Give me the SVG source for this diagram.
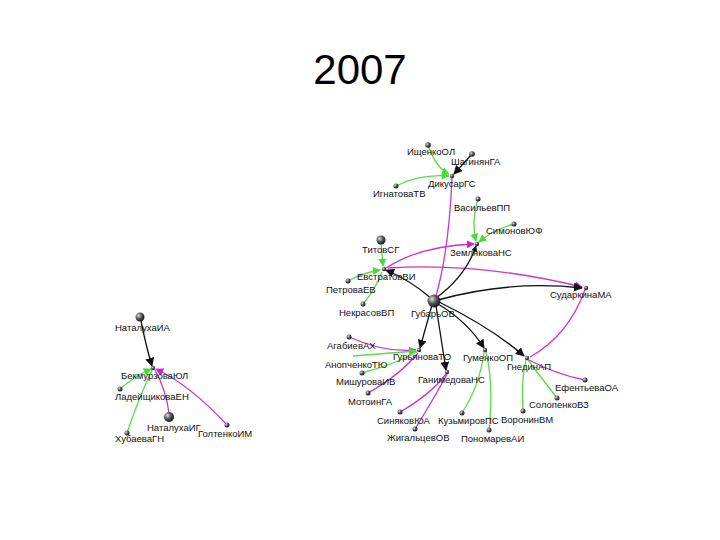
<svg xmlns="http://www.w3.org/2000/svg" width="720" height="540" viewBox="0 0 720 540">
<style>
.t{font-family:"Liberation Sans",Arial,sans-serif;font-size:42px;fill:#000}
.l{font-family:"Liberation Sans",Arial,sans-serif;font-size:9.5px;fill:#111}
.k{fill:none;stroke:#111;stroke-width:1.3}
.g{fill:none;stroke:#55dd44;stroke-width:1.3}
.m{fill:none;stroke:#cc33cc;stroke-width:1.3}
</style>
<defs>
<radialGradient id="sp" cx="0.35" cy="0.35" r="0.7">
<stop offset="0" stop-color="#dddddd"/>
<stop offset="0.5" stop-color="#555555"/>
<stop offset="1" stop-color="#111111"/>
</radialGradient>
<marker id="ak" viewBox="0 0 10 10" refX="9" refY="5" markerWidth="6" markerHeight="6" orient="auto" markerUnits="userSpaceOnUse"><path d="M0,0L10,5L0,10z" fill="#111"/></marker>
<marker id="akb" viewBox="0 0 10 10" refX="9" refY="5" markerWidth="9" markerHeight="9" orient="auto" markerUnits="userSpaceOnUse"><path d="M0,0L10,5L0,10z" fill="#111"/></marker>
<marker id="ag" viewBox="0 0 10 10" refX="9" refY="5" markerWidth="8" markerHeight="8" orient="auto" markerUnits="userSpaceOnUse"><path d="M0,0L10,5L0,10z" fill="#44dd33"/></marker>
<marker id="am" viewBox="0 0 10 10" refX="9" refY="5" markerWidth="8" markerHeight="8" orient="auto" markerUnits="userSpaceOnUse"><path d="M0,0L10,5L0,10z" fill="#cc22cc"/></marker>
</defs>
<rect width="720" height="540" fill="#fff"/>
<text class="t" x="360" y="84" text-anchor="middle">2007</text>
<g id="connectors">
<path class="g" d="M428,145 Q436,168 449,174" marker-end="url(#ag)"/>
<path class="k" d="M472,154 L454,174" marker-end="url(#akb)"/>
<path class="g" d="M396,186 Q420,174 449,176" marker-end="url(#ag)"/>
<path class="m" d="M452,178 Q449,250 436,296"/>
<path class="g" d="M478,199 Q471,222 476,241" marker-end="url(#ag)"/>
<path class="g" d="M514,224 Q495,229 479,242" marker-end="url(#ag)"/>
<path class="m" d="M386,268 Q420,246 474,244" marker-end="url(#am)"/>
<path class="m" d="M388,268 Q480,262 582,287" marker-end="url(#am)"/>
<path class="g" d="M381,243 L383,266" marker-end="url(#ag)"/>
<path class="g" d="M348,281 Q365,272 380,270" marker-end="url(#ag)"/>
<path class="g" d="M363,304 Q375,290 382,272"/>
<path class="k" d="M432,299 Q410,280 386,270" marker-end="url(#akb)"/>
<path class="k" d="M436,298 Q466,276 476,246" marker-end="url(#ak)"/>
<path class="k" d="M438,300 Q510,280 582,288" marker-end="url(#akb)"/>
<path class="k" d="M432,305 L420,348" marker-end="url(#akb)"/>
<path class="k" d="M436,306 L446,370" marker-end="url(#akb)"/>
<path class="k" d="M438,304 Q468,322 484,348" marker-end="url(#akb)"/>
<path class="k" d="M439,302 Q492,328 524,356" marker-end="url(#akb)"/>
<path class="m" d="M585,290 Q568,336 530,357"/>
<path class="m" d="M349,337 Q385,353 416,350" marker-end="url(#am)"/>
<path class="g" d="M353,356 L416,351" marker-end="url(#ag)"/>
<path class="g" d="M362,373 Q395,364 417,352"/>
<path class="m" d="M368,393 Q400,375 418,353"/>
<path class="m" d="M400,412 Q430,395 446,374"/>
<path class="m" d="M415,429 Q436,395 447,374"/>
<path class="g" d="M462,413 Q480,385 484,352"/>
<path class="g" d="M489,430 Q494,385 486,352"/>
<path class="g" d="M523,411 Q521,380 526,360"/>
<path class="g" d="M557,398 Q540,376 528,360"/>
<path class="m" d="M585,380 Q555,374 529,360"/>
<path class="k" d="M141,321 Q146,346 152,366" marker-end="url(#akb)"/>
<path class="g" d="M120,389 Q135,376 151,369" marker-end="url(#ag)"/>
<path class="g" d="M127,433 Q138,400 152,370"/>
<path class="m" d="M169,413 Q166,390 155,370"/>
<path class="m" d="M227,425 Q190,385 156,369" marker-end="url(#am)"/>
</g>
<g id="n-IschenkoOL"><circle cx="428" cy="145" r="2.8" fill="url(#sp)"/><text class="l" x="407" y="155">ИщенкоОЛ</text></g>
<g id="n-ShaginyanGA"><circle cx="472" cy="154" r="2.8" fill="url(#sp)"/><text class="l" x="451" y="165">ШагинянГА</text></g>
<g id="n-DikusarGS"><circle cx="452" cy="176" r="2.2" fill="url(#sp)"/><text class="l" x="428" y="187">ДикусарГС</text></g>
<g id="n-IgnatovaTV"><circle cx="396" cy="186" r="2.5" fill="url(#sp)"/><text class="l" x="373" y="197">ИгнатоваТВ</text></g>
<g id="n-VasilievPP"><circle cx="478" cy="199" r="2.5" fill="url(#sp)"/><text class="l" x="454" y="211">ВасильевПП</text></g>
<g id="n-SimonovYF"><circle cx="514" cy="224" r="2.5" fill="url(#sp)"/><text class="l" x="486" y="234">СимоновЮФ</text></g>
<g id="n-ZemlyakovaNS"><circle cx="477" cy="244" r="2.2" fill="url(#sp)"/><text class="l" x="450" y="256">ЗемляковаНС</text></g>
<g id="n-TitovSG"><circle cx="381" cy="240" r="4.5" fill="url(#sp)"/><text class="l" x="362" y="253">ТитовСГ</text></g>
<g id="n-EvstratovVI"><circle cx="384" cy="269" r="2.2" fill="url(#sp)"/><text class="l" x="357" y="280">ЕвстратовВИ</text></g>
<g id="n-PetrovaEV"><circle cx="348" cy="281" r="2.5" fill="url(#sp)"/><text class="l" x="326" y="293">ПетроваЕВ</text></g>
<g id="n-NekrasovVP"><circle cx="363" cy="304" r="2.5" fill="url(#sp)"/><text class="l" x="339" y="316">НекрасовВП</text></g>
<g id="n-GubarOV"><circle cx="434" cy="301" r="6.5" fill="url(#sp)"/><text class="l" x="411" y="317">ГубарьОВ</text></g>
<g id="n-SudarkinaMA"><circle cx="586" cy="288" r="2.2" fill="url(#sp)"/><text class="l" x="550" y="298">СударкинаМА</text></g>
<g id="n-AgabievAH"><circle cx="349" cy="337" r="2.5" fill="url(#sp)"/><text class="l" x="327" y="349">АгабиевАХ</text></g>
<g id="n-GuryanovaTO"><circle cx="419" cy="350" r="2.2" fill="url(#sp)"/><text class="l" x="393" y="360">ГурьяноваТО</text></g>
<g id="n-AnopchenkoTY"><text class="l" x="325" y="368">АнопченкоТЮ</text></g>
<g id="n-MishurovaIV"><circle cx="362" cy="373" r="2.5" fill="url(#sp)"/><text class="l" x="336" y="385">МишуроваИВ</text></g>
<g id="n-MotoinGA"><circle cx="368" cy="393" r="2.5" fill="url(#sp)"/><text class="l" x="348" y="405">МотоинГА</text></g>
<g id="n-GanimedovaNS"><circle cx="447" cy="372" r="2.2" fill="url(#sp)"/><text class="l" x="418" y="383">ГанимедоваНС</text></g>
<g id="n-SinyakovYA"><circle cx="400" cy="412" r="2.5" fill="url(#sp)"/><text class="l" x="377" y="424">СиняковЮА</text></g>
<g id="n-ZhigaltsevOV"><circle cx="415" cy="429" r="2.5" fill="url(#sp)"/><text class="l" x="387" y="441">ЖигальцевОВ</text></g>
<g id="n-KuzmirovPS"><circle cx="462" cy="413" r="2.5" fill="url(#sp)"/><text class="l" x="438" y="424">КузьмировПС</text></g>
<g id="n-PonomarevAI"><circle cx="489" cy="430" r="2.5" fill="url(#sp)"/><text class="l" x="461" y="442">ПономаревАИ</text></g>
<g id="n-GumenkoOP"><circle cx="485" cy="350" r="2.2" fill="url(#sp)"/><text class="l" x="463" y="361">ГуменкоОП</text></g>
<g id="n-GnedinAP"><circle cx="527" cy="358" r="2.2" fill="url(#sp)"/><text class="l" x="507" y="370">ГнединАП</text></g>
<g id="n-EfentievaOA"><circle cx="585" cy="380" r="2.5" fill="url(#sp)"/><text class="l" x="555" y="391">ЕфентьеваОА</text></g>
<g id="n-SolopenkoVZ"><circle cx="557" cy="398" r="2.5" fill="url(#sp)"/><text class="l" x="529" y="408">СолопенкоВЗ</text></g>
<g id="n-VoroninVM"><circle cx="523" cy="411" r="2.5" fill="url(#sp)"/><text class="l" x="501" y="423">ВоронинВМ</text></g>
<g id="n-NataluhaIA"><circle cx="140" cy="317" r="4.5" fill="url(#sp)"/><text class="l" x="115" y="331">НаталухаИА</text></g>
<g id="n-BekmurzovaYL"><circle cx="153" cy="368" r="2.2" fill="url(#sp)"/><text class="l" x="121" y="379">БекмурзоваЮЛ</text></g>
<g id="n-LadeyschikovaEN"><circle cx="120" cy="389" r="2.5" fill="url(#sp)"/><text class="l" x="115" y="400">ЛадейщиковаЕН</text></g>
<g id="n-HubaevaGN"><circle cx="127" cy="433" r="2.5" fill="url(#sp)"/><text class="l" x="115" y="442">ХубаеваГН</text></g>
<g id="n-NataluhaIG"><circle cx="169" cy="417" r="5" fill="url(#sp)"/><text class="l" x="147" y="431">НаталухаИГ</text></g>
<g id="n-GoltenkoIM"><circle cx="227" cy="425" r="2.5" fill="url(#sp)"/><text class="l" x="198" y="437">ГолтенкоИМ</text></g>
</svg>
